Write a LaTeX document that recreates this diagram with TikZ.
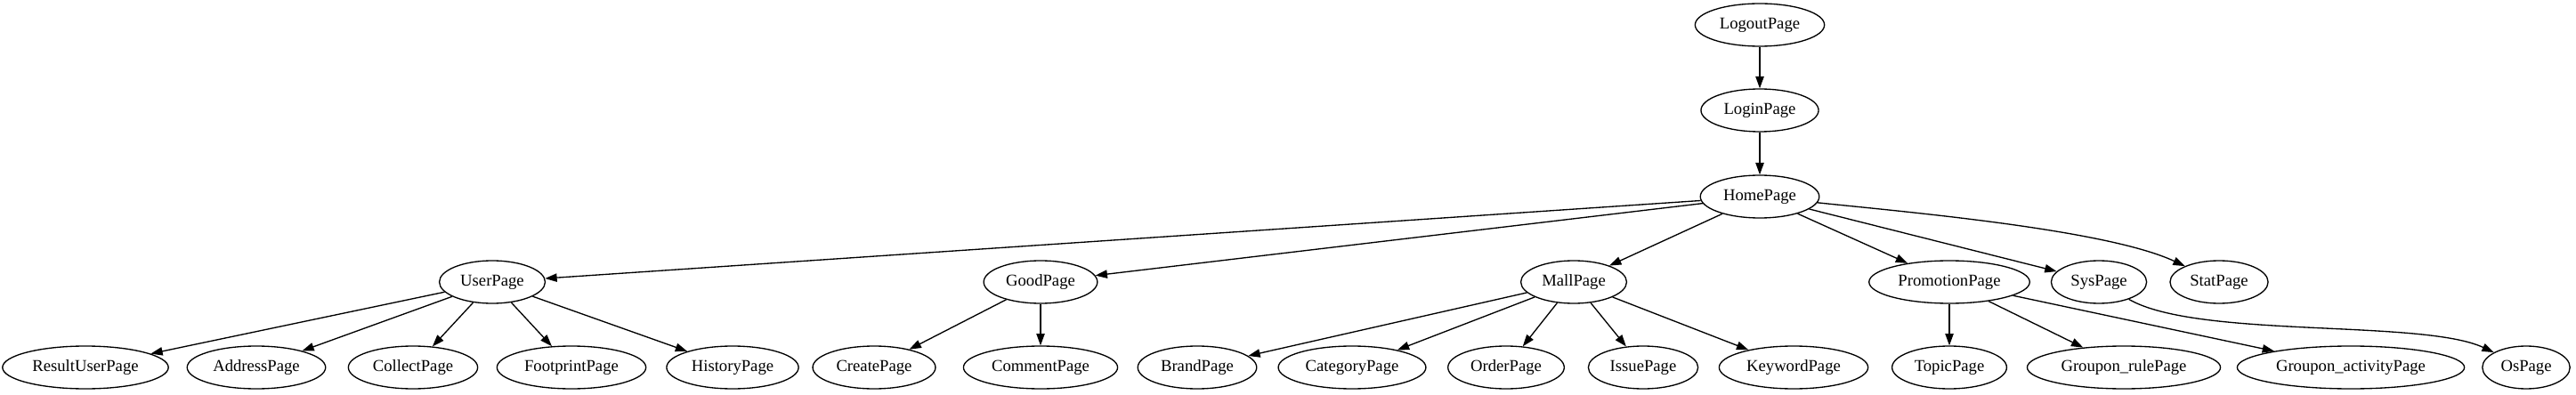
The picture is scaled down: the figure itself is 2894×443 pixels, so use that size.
\documentclass[tikz,border=0pt]{standalone}
\usepackage{fontspec}
\setmainfont{Liberation Serif}
\usetikzlibrary{arrows.meta,shapes.geometric}
\tikzset{
  page/.style={draw,ellipse,line width=1pt,inner xsep=4.7pt,inner ysep=2pt,minimum height=36pt,font=\fontsize{14pt}{16pt}\selectfont},
  edge/.style={line width=1pt,-{Triangle[length=10pt,width=7pt]}}
}
\begin{document}
\begin{tikzpicture}[x=0.75pt,y=0.75pt]
  \useasboundingbox (0,0) rectangle (2894,443);

  % top chain
  \node[page] (LogoutPage) at (1977,415) {LogoutPage};
  \node[page] (LoginPage) at (1977,319) {LoginPage};
  \node[page] (HomePage) at (1977,222) {HomePage};

  % sections
  \foreach \n/\x in {UserPage/553,GoodPage/1169,MallPage/1768,PromotionPage/2190,SysPage/2358,StatPage/2493} {
    \node[page] (\n) at (\x,126) {\n};
  }

  % leaf pages
  \foreach \n/\x in {ResultUserPage/96,AddressPage/288,CollectPage/464,FootprintPage/642,HistoryPage/823,
                     CreatePage/982,CommentPage/1169,BrandPage/1345,CategoryPage/1519,OrderPage/1692,
                     IssuePage/1846,KeywordPage/2015,TopicPage/2190,OsPage/2838} {
    \node[page] (\n) at (\x,30) {\n};
  }
  \node[page] (GrouponRule) at (2386,30) {Groupon\_rulePage};
  \node[page] (GrouponActivity) at (2641,30) {Groupon\_activityPage};

  \foreach \a/\b in {LogoutPage/LoginPage,LoginPage/HomePage,
                     HomePage/UserPage,HomePage/GoodPage,HomePage/MallPage,HomePage/PromotionPage,HomePage/SysPage,
                     UserPage/ResultUserPage,UserPage/AddressPage,UserPage/CollectPage,UserPage/FootprintPage,UserPage/HistoryPage,
                     GoodPage/CreatePage,GoodPage/CommentPage,
                     MallPage/BrandPage,MallPage/CategoryPage,MallPage/OrderPage,MallPage/IssuePage,MallPage/KeywordPage,
                     PromotionPage/TopicPage,PromotionPage/GrouponRule,PromotionPage/GrouponActivity} {
    \draw[edge] (\a) -- (\b);
  }
  \draw[edge] (HomePage) to[out=-6,in=155,looseness=0.6] (StatPage);
  \draw[edge] (SysPage) to[out=-30,in=155,looseness=0.55] (OsPage);
\end{tikzpicture}
\end{document}
